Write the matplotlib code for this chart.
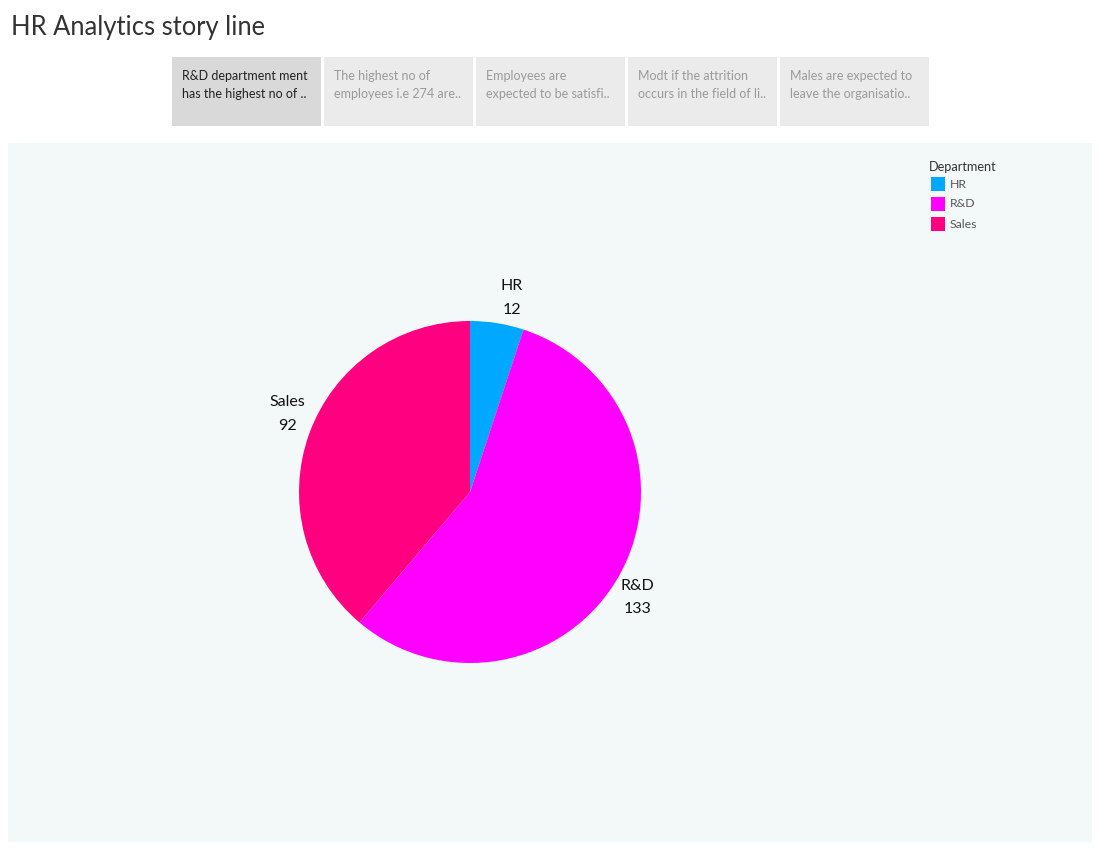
import numpy as np
import matplotlib
matplotlib.use("Agg")
import matplotlib.pyplot as plt
from matplotlib.patches import Rectangle

plt.rcParams["font.family"] = ["Lato", "DejaVu Sans"]

# Data
departments = ["HR", "R&D", "Sales"]
attrition = [12, 133, 92]
dept_colors = ["#00A9FF", "#FF00FF", "#FF0080"]

story_points = [
    "R&D department ment\nhas the highest no of ..",
    "The highest no of\nemployees i.e 274 are..",
    "Employees are\nexpected to be satisfi..",
    "Modt if the attrition\noccurs in the field of li..",
    "Males are expected to\nleave the organisatio..",
]

W, H = 1099, 849
fig = plt.figure(figsize=(W / 100, H / 100), dpi=100)
fig.patch.set_facecolor("white")


def fx(px):
    return px / W


def fy(py):
    return 1 - py / H


# Title
fig.text(fx(11), fy(27), "HR Analytics story line", fontsize=18.4,
         color="#333333", va="center", ha="left")

# Story point tabs
tab_left = 172
tab_w = 149
tab_gap = 3
for i, txt in enumerate(story_points):
    x0 = tab_left + i * (tab_w + tab_gap)
    active = i == 0
    fig.patches.append(Rectangle((fx(x0), fy(126)), fx(tab_w), 69 / H,
                                 transform=fig.transFigure, zorder=-2,
                                 facecolor="#D9D9D9" if active else "#EBEBEB",
                                 edgecolor="none"))
    fig.text(fx(x0 + 10), fy(70), txt, fontsize=9, linespacing=1.6,
             color="#222222" if active else "#9A9A9A", va="top", ha="left")

# Dashboard panel
fig.patches.append(Rectangle((fx(8), fy(842)), fx(1084), 699 / H,
                             transform=fig.transFigure, zorder=-2,
                             facecolor="#F3F8F8", edgecolor="none"))

# Pie
ax = fig.add_axes([fx(270), fy(692), fx(400), 400 / H])
ax.set_zorder(2)
ax.set_facecolor("none")
wedges, _ = ax.pie(attrition, colors=dept_colors, startangle=90,
                   counterclock=False, radius=1.0,
                   wedgeprops=dict(linewidth=0))
lim = 200 / 171
ax.set_xlim(-lim, lim)
ax.set_ylim(-lim, lim)
ax.set_aspect("equal")
ax.axis("off")

for w, name, val in zip(wedges, departments, attrition):
    mid = np.deg2rad((w.theta1 + w.theta2) / 2 - 3)
    r = 1.16
    ax.text(r * np.cos(mid), r * np.sin(mid), f"{name}\n{val}",
            ha="center", va="center", fontsize=11.5, linespacing=1.85,
            color="#111111", clip_on=False)

# Legend
fig.text(fx(929), fy(167), "Department", fontsize=9.2, color="#333333",
         va="center", ha="left")
for i, (name, c) in enumerate(zip(departments, dept_colors)):
    yc = 184 + i * 20
    fig.patches.append(Rectangle((fx(931), fy(yc + 7)), fx(14), 14 / H,
                                 transform=fig.transFigure, zorder=-1,
                                 facecolor=c, edgecolor="none"))
    fig.text(fx(950), fy(yc), name, fontsize=8.8, color="#555555",
             va="center", ha="left")

fig.savefig("out.png", dpi=100)
